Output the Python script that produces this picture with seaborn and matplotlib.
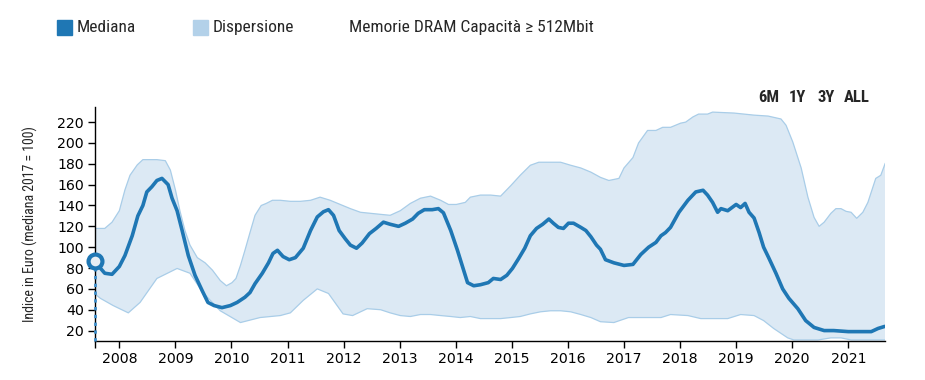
import numpy as np
import pandas as pd
import matplotlib
matplotlib.use("Agg")
import matplotlib.pyplot as plt
from matplotlib.patches import Rectangle
from matplotlib import font_manager
import seaborn as sns

# ---------------- data ----------------
median_years = [2007.57, 2007.66, 2007.74, 2007.87, 2008.00, 2008.10, 2008.23, 2008.33, 2008.42, 2008.49,
                2008.58, 2008.67, 2008.76, 2008.87, 2008.94, 2009.03, 2009.12, 2009.23, 2009.35, 2009.48,
                2009.58, 2009.69, 2009.83, 2009.98, 2010.10, 2010.24, 2010.33, 2010.42, 2010.55, 2010.66,
                2010.74, 2010.82, 2010.92, 2011.03, 2011.14, 2011.28, 2011.41, 2011.53, 2011.64, 2011.73,
                2011.82, 2011.92, 2012.03, 2012.12, 2012.23, 2012.33, 2012.46, 2012.58, 2012.71, 2012.83,
                2012.98, 2013.10, 2013.23, 2013.33, 2013.44, 2013.58, 2013.69, 2013.78, 2013.91, 2014.03,
                2014.14, 2014.21, 2014.32, 2014.44, 2014.58, 2014.67, 2014.80, 2014.91, 2015.01, 2015.12,
                2015.23, 2015.33, 2015.44, 2015.55, 2015.66, 2015.74, 2015.83, 2015.92, 2016.01, 2016.10,
                2016.23, 2016.32, 2016.41, 2016.51, 2016.58, 2016.67, 2016.82, 2017.00, 2017.16, 2017.30,
                2017.44, 2017.57, 2017.66, 2017.74, 2017.83, 2017.98, 2018.14, 2018.28, 2018.41, 2018.49,
                2018.58, 2018.67, 2018.73, 2018.85, 2019.00, 2019.08, 2019.16, 2019.23, 2019.32, 2019.41,
                2019.49, 2019.58, 2019.71, 2019.83, 2019.94, 2020.10, 2020.24, 2020.39, 2020.57, 2020.74,
                2021.00, 2021.23, 2021.41, 2021.53, 2021.65]
median_values = [87, 80, 75, 74, 81.5, 92, 111, 130, 140, 153,
                 158, 164, 166, 160, 147, 135, 116, 92, 73, 58,
                 47, 44, 42, 44, 47, 52, 56.5, 65, 75, 85,
                 94, 97, 91, 88, 90, 99, 116, 129, 134, 136,
                 130.5, 116, 108, 102, 99, 104, 113, 118, 124, 122,
                 120, 123, 127, 132.5, 136, 136, 137, 133, 116, 97,
                 78, 66, 63, 64, 66, 70, 69, 73, 79.6, 89,
                 99, 111, 118, 122, 127, 123, 119, 118, 123, 123,
                 119, 116, 110, 102, 98, 88, 85, 82.5, 83.5, 93,
                 100, 104.6, 111, 114, 119, 133.5, 145, 153, 154.6, 150,
                 143, 133.5, 137, 135, 141, 138, 142, 133.5, 128, 114,
                 100, 90, 75, 60, 51, 41, 29.6, 23, 20, 20,
                 19, 19, 19, 22, 24]

upper_years = [2007.57, 2007.74, 2007.87, 2008.00, 2008.10, 2008.19, 2008.32, 2008.42, 2008.55, 2008.67,
               2008.82, 2008.91, 2009.00, 2009.08, 2009.17, 2009.26, 2009.39, 2009.53, 2009.66, 2009.80,
               2009.91, 2010.01, 2010.08, 2010.16, 2010.24, 2010.33, 2010.42, 2010.53, 2010.62, 2010.73,
               2010.87, 2011.05, 2011.23, 2011.41, 2011.58, 2011.76, 2011.94, 2012.12, 2012.30, 2012.48,
               2012.66, 2012.83, 2013.01, 2013.19, 2013.37, 2013.55, 2013.73, 2013.87, 2014.01, 2014.17,
               2014.26, 2014.44, 2014.62, 2014.80, 2014.98, 2015.15, 2015.33, 2015.48, 2015.69, 2015.87,
               2016.05, 2016.23, 2016.41, 2016.58, 2016.73, 2016.91, 2017.00, 2017.16, 2017.26, 2017.42,
               2017.57, 2017.69, 2017.83, 2018.01, 2018.10, 2018.23, 2018.33, 2018.49, 2018.58, 2018.96,
               2019.32, 2019.57, 2019.80, 2019.89, 2020.01, 2020.16, 2020.28, 2020.39, 2020.48, 2020.57,
               2020.69, 2020.78, 2020.87, 2020.96, 2021.05, 2021.15, 2021.26, 2021.35, 2021.49, 2021.58,
               2021.66]
upper_values = [118, 118, 124, 135, 155, 169, 179, 184, 184, 184,
                183, 174, 155, 135, 116, 102, 90, 85, 78, 68,
                63, 66, 70, 82.5, 97, 114, 130.6, 140, 142, 145,
                145, 144, 144, 145, 148, 145, 141, 137, 133.5, 132.5,
                131.5, 130.6, 135, 142, 147, 149, 145, 141, 141, 143,
                148, 150, 150, 149, 159, 169, 178.6, 181.5, 181.5, 181.5,
                178.6, 176, 172, 167, 164, 166, 176, 186, 200, 212,
                212, 215, 215, 219, 220, 225, 227.7, 227.7, 229.6, 228.7,
                226.7, 225.8, 223, 217, 201, 176, 148, 128.6, 120, 124,
                132.5, 137, 137, 134.4, 133.5, 127.7, 133.5, 143, 166, 169,
                180.6]

lower_years = [2007.57, 2007.66, 2007.89, 2008.16, 2008.37, 2008.67, 2009.03, 2009.26, 2009.49, 2009.80,
               2010.16, 2010.51, 2010.87, 2011.05, 2011.28, 2011.53, 2011.73, 2011.99, 2012.16, 2012.42,
               2012.66, 2012.83, 2013.01, 2013.19, 2013.37, 2013.55, 2013.73, 2013.91, 2014.08, 2014.26,
               2014.44, 2014.62, 2014.80, 2014.98, 2015.15, 2015.33, 2015.51, 2015.69, 2015.87, 2016.05,
               2016.23, 2016.41, 2016.58, 2016.82, 2017.08, 2017.35, 2017.66, 2017.83, 2018.14, 2018.37,
               2018.60, 2018.85, 2019.08, 2019.32, 2019.49, 2019.67, 2019.92, 2020.03, 2020.46, 2020.69,
               2020.87, 2021.05, 2021.66]
lower_values = [55, 51, 44, 37, 47, 70, 79.6, 75, 56.5, 39,
                27.7, 32.5, 34.4, 37, 49, 60, 55.6, 36, 34.4, 41,
                40, 37, 34.4, 33.5, 35.4, 35.4, 34.4, 33.5, 32.5, 33.5,
                31.5, 31.5, 31.5, 32.5, 33.5, 36, 38, 39, 39, 38,
                35.4, 32.5, 28.5, 27.7, 32.5, 32.5, 32.5, 35.4, 34.4, 31.5,
                31.5, 31.5, 35.4, 34.4, 29.6, 22, 13, 11, 11, 13,
                13, 11, 11]

year_ticks = list(range(2008, 2022))
y_ticks = list(range(20, 221, 20))
legend_labels = ["Mediana", "Dispersione"]
title_text = "Memorie DRAM Capacità ≥ 512Mbit"
ylabel_text = "Indice in Euro (mediana 2017 = 100)"
range_buttons = ["6M", "1Y", "3Y", "ALL"]

# ---------------- style ----------------
sns.set_theme(style="ticks")
installed = {f.name for f in font_manager.fontManager.ttflist}
narrow = "Roboto"
for cand in ["Roboto Condensed", "Liberation Sans Narrow", "Archivo Narrow", "Asap Condensed",
             "Barlow Condensed"]:
    if cand in installed:
        narrow = cand
        break
plt.rcParams["font.family"] = ["DejaVu Sans"]
NFAM = [narrow, "DejaVu Sans"]

LINE = "#1f77b4"
FILL = "#dce9f4"
EDGE = "#a9cde8"
LEG2 = "#b3d1e9"

fig = plt.figure(figsize=(9.25, 3.8), dpi=100)
ax = fig.add_axes([95 / 925, 1 - 341 / 380, (885 - 95) / 925, (341 - 107) / 380])

# band
ax.fill(np.concatenate([upper_years, lower_years[::-1]]),
        np.concatenate([upper_values, lower_values[::-1]]),
        color=FILL, lw=0, zorder=1)
ax.plot(upper_years, upper_values, color=EDGE, lw=0.9, zorder=2)
ax.plot(lower_years, lower_values, color=EDGE, lw=0.9, zorder=2)

df = pd.DataFrame({"anno": median_years, "valore": median_values})
sns.lineplot(data=df, x="anno", y="valore", ax=ax, color=LINE, lw=2.6, zorder=4)

# crosshair marker at first point
ax.plot([median_years[0], median_years[0]], [10, median_values[0]], ls=(0, (1.2, 1.6)),
        color="#3f8fcb", lw=2.0, zorder=5, clip_on=False)
ax.plot([median_years[0]], [median_values[0]], marker="o", ms=10, mew=3,
        mfc="#e8eef3", mec=LINE, zorder=6, clip_on=False)

ax.set_xlim(2007.566, 2021.655)
ax.set_ylim(10, 234.5)
ax.set_xticks(year_ticks)
ax.set_xticklabels([str(y) for y in year_ticks])
ax.set_xticks([2007.566], minor=True)
ax.set_yticks(y_ticks)
ax.tick_params(axis="both", which="major", labelsize=10.2, length=5, width=1, color="black",
               labelcolor="black", pad=3)
ax.tick_params(axis="x", which="minor", length=5, width=1, color="black")
ax.set_xlabel("")
ax.set_ylabel(ylabel_text, fontsize=10, family=NFAM, labelpad=14)
for s in ["top", "right"]:
    ax.spines[s].set_visible(False)
for s in ["left", "bottom"]:
    ax.spines[s].set_color("black")
    ax.spines[s].set_linewidth(1)
ax.patch.set_alpha(0)

# legend (figure level)
fig.patches.append(Rectangle((57 / 925, 1 - 35 / 380), 15 / 925, 15 / 380, transform=fig.transFigure,
                             color=LINE, figure=fig))
fig.patches.append(Rectangle((193 / 925, 1 - 35 / 380), 15 / 925, 15 / 380, transform=fig.transFigure,
                             color=LEG2, figure=fig))
fig.text(77 / 925, 1 - 27.5 / 380, legend_labels[0], fontsize=12.5, va="center", ha="left", family=NFAM)
fig.text(213 / 925, 1 - 27.5 / 380, legend_labels[1], fontsize=12.5, va="center", ha="left", family=NFAM)
fig.text(349 / 925, 1 - 27.5 / 380, title_text, fontsize=12.5, va="center", ha="left", family=NFAM)

for label, xp in zip(range_buttons, [758, 789, 818, 844]):
    fig.text(xp / 925, 1 - 97 / 380, label, fontsize=12, fontweight="bold", va="center", ha="left",
             family=NFAM)

fig.savefig("out.png", dpi=100)
